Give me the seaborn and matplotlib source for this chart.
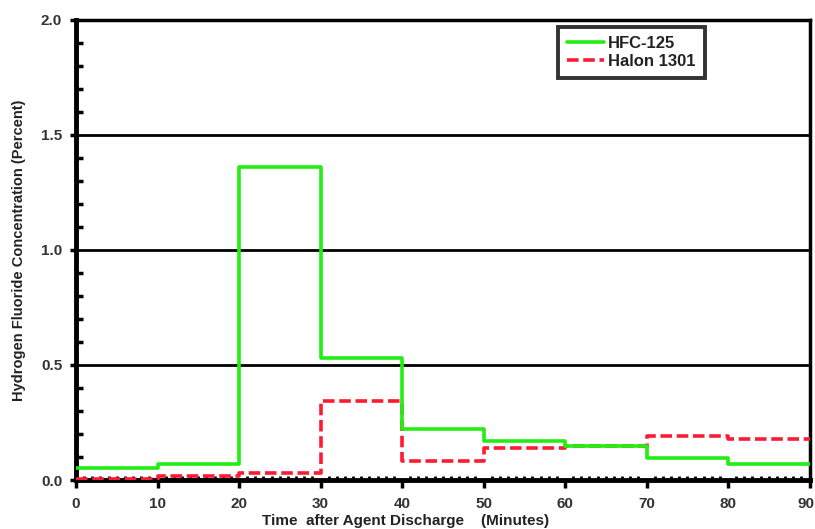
import numpy as np
import pandas as pd
import matplotlib
matplotlib.use("Agg")
import matplotlib.pyplot as plt
import matplotlib.transforms as mtransforms
from matplotlib.ticker import MultipleLocator
import seaborn as sns

# Time bins (minutes) and mean HF concentration per bin (percent)
time_min = [0, 10, 20, 30, 40, 50, 60, 70, 80, 90]
hfc125 = [0.051, 0.069, 1.36, 0.53, 0.222, 0.168, 0.148, 0.095, 0.069, 0.069]
halon1301 = [0.006, 0.016, 0.029, 0.345, 0.083, 0.137, 0.148, 0.193, 0.178, 0.178]

series_names = ["HFC-125", "Halon 1301"]
x_ticks = [0, 10, 20, 30, 40, 50, 60, 70, 80, 90]
y_ticks = [0.0, 0.5, 1.0, 1.5, 2.0]

sns.set_style("white")
plt.rcParams["font.family"] = ["Liberation Sans", "DejaVu Sans"]
plt.rcParams["font.weight"] = "bold"

df = pd.DataFrame({
    "time": time_min * 2,
    "conc": halon1301 + hfc125,
    "agent": [series_names[1]] * len(time_min) + [series_names[0]] * len(time_min),
})

fig = plt.figure(figsize=(8.15, 5.29), dpi=100)
ax = fig.add_axes([0.0933, 0.0926, 0.9, 0.870])

# horizontal reference lines
for yv in [0.5, 1.0, 1.5]:
    ax.axhline(yv, color="black", lw=2, zorder=1)

red = "#ff1a33"
green = "#22ee11"
sns.lineplot(data=df[df.agent == series_names[1]], x="time", y="conc", ax=ax,
             color=red, lw=2.6, drawstyle="steps-post", dashes=False,
             linestyle=(0, (3.2, 1.3)), label=series_names[1], zorder=3,
             estimator=None)
sns.lineplot(data=df[df.agent == series_names[0]], x="time", y="conc", ax=ax,
             color=green, lw=2.6, drawstyle="steps-post",
             label=series_names[0], zorder=4, estimator=None)

ax.set_xlim(0, 90)
ax.set_ylim(0, 2.0)
ax.set_xticks(x_ticks)
ax.set_yticks(y_ticks)
ax.set_xticklabels([str(t) for t in x_ticks])
ax.set_yticklabels([f"{t:.1f}" for t in y_ticks])
ax.xaxis.set_minor_locator(MultipleLocator(1))
ax.yaxis.set_minor_locator(MultipleLocator(0.1))

ax.tick_params(axis="x", which="major", direction="out", length=6, width=2.5,
               labelsize=11, pad=6, colors="black", labelcolor="#333333")
ax.tick_params(axis="x", which="minor", direction="in", length=3, width=2, colors="black")
ax.tick_params(axis="y", which="major", direction="out", length=4, width=2.5,
               labelsize=11, pad=6, colors="black", labelcolor="#333333")
ax.tick_params(axis="y", which="minor", direction="in", length=5, width=2.5, colors="black")
ax.tick_params(left=True, bottom=True)
ax.yaxis.set_ticks_position("left")
ax.xaxis.set_ticks_position("bottom")

# nudge the last x label inward so it stays on the canvas
last_lbl = ax.get_xticklabels()[-1]
last_lbl.set_transform(last_lbl.get_transform() +
                       mtransforms.ScaledTranslation(-4 / 100, 0, fig.dpi_scale_trans))

for side, w in [("left", 3.5), ("bottom", 3.5), ("top", 2.5), ("right", 2.5)]:
    ax.spines[side].set_visible(True)
    ax.spines[side].set_linewidth(w)
    ax.spines[side].set_color("black")

ax.set_xlabel("Time  after Agent Discharge    (Minutes)", fontsize=11,
              fontweight="bold", color="#222222", labelpad=3)
ax.xaxis.set_label_coords(0.449, -0.073)
ax.set_ylabel("Hydrogen Fluoride Concentration (Percent)", fontsize=10.5,
              fontweight="bold", color="#222222")
ax.yaxis.set_label_coords(-0.068, 0.5)

handles, labels = ax.get_legend_handles_labels()
order = [labels.index(n) for n in series_names]
leg = ax.legend([handles[i] for i in order], [labels[i] for i in order],
                loc="upper left", bbox_to_anchor=(0.657, 0.985),
                frameon=True, fancybox=False, fontsize=12, handlelength=2.2,
                handletextpad=0.25, borderpad=0.55, labelspacing=0.2,
                borderaxespad=0)
leg.get_frame().set_edgecolor("black")
leg.get_frame().set_linewidth(2.8)
for t in leg.get_texts():
    t.set_fontweight("bold")
    t.set_color("#222222")
leg.set_zorder(10)

fig.savefig("out.png", dpi=100, facecolor="white")
